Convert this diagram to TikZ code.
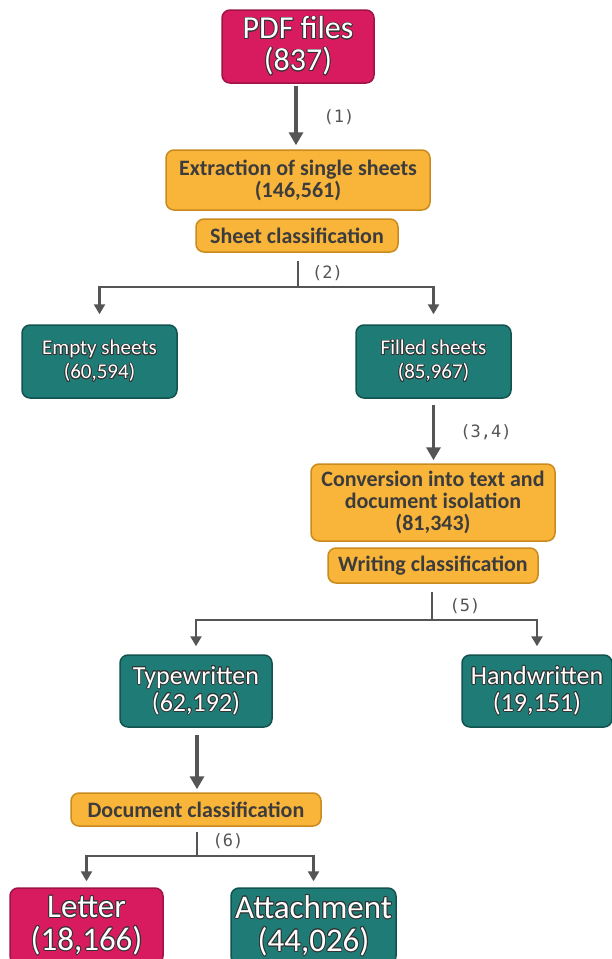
\documentclass[tikz,border=0pt]{standalone}
\usepackage{fontspec}
\setmainfont{Carlito}
\newfontfamily\lblfont{DejaVu Sans Mono}
\usepackage[copies]{contour}
\contourlength{0.8pt}
\usetikzlibrary{arrows.meta}
\definecolor{crim}{HTML}{D81B5E}
\definecolor{crimb}{HTML}{9E1447}
\definecolor{teal}{HTML}{1F7B76}
\definecolor{tealb}{HTML}{12534F}
\definecolor{orng}{HTML}{F9B43A}
\definecolor{orngb}{HTML}{C98A1E}
\definecolor{ink}{HTML}{3C3C3C}
\definecolor{conn}{HTML}{555555}
\newcommand{\wt}[1]{\contour{black!80}{#1}}
\tikzset{
  box/.style={rounded corners=8pt, line width=1.5pt, align=center, inner sep=0pt},
  redbox/.style={box, fill=crim, draw=crimb, text=white},
  tealbox/.style={box, fill=teal, draw=tealb, text=white},
  orbox/.style={box, fill=orng, draw=orngb, text=ink, font=\bfseries\fontsize{22}{22}\selectfont},
  bigarrow/.style={draw=conn, line width=3.5pt, -{Triangle[width=14pt,length=13pt]}},
  branch/.style={draw=conn, line width=2.5pt},
  brarrow/.style={draw=conn, line width=2.5pt, -{Triangle[width=11pt,length=10pt]}},
  lbl/.style={text=conn, font=\lblfont\fontsize{17}{19}\selectfont, inner sep=0pt}
}
\begin{document}
\begin{tikzpicture}[x=1pt,y=-1pt]
\useasboundingbox (0,0) rectangle (612,959);
\clip (0,0) rectangle (612,959);
% nodes
\node[redbox, font=\fontsize{32}{32}\selectfont, minimum width=152pt, minimum height=73pt] (pdf) at (298,46.5) {\wt{PDF files}\\\wt{(837)}};
\node[orbox, minimum width=264pt, minimum height=60pt] (extr) at (298,180) {Extraction of single sheets\\(146,561)};
\node[orbox, minimum width=202pt, minimum height=33pt] (sheetc) at (297,235.5) {Sheet classification};
\node[tealbox, font=\fontsize{21}{24}\selectfont, minimum width=155pt, minimum height=73pt] (empty) at (99.5,361.5) {\wt{Empty sheets}\\\wt{(60,594)}};
\node[tealbox, font=\fontsize{21}{24}\selectfont, minimum width=155pt, minimum height=73pt] (filled) at (433.5,361.5) {\wt{Filled sheets}\\\wt{(85,967)}};
\node[orbox, minimum width=244pt, minimum height=77pt] (conv) at (433,502.5) {Conversion into text and\\document isolation\\(81,343)};
\node[orbox, minimum width=210pt, minimum height=35pt] (writc) at (433,565.5) {Writing classification};
\node[tealbox, font=\fontsize{26}{27}\selectfont, minimum width=152pt, minimum height=72pt] (type) at (196,691) {\wt{Typewritten}\\\wt{(62,192)}};
\node[tealbox, font=\fontsize{26}{27}\selectfont, minimum width=150pt, minimum height=72pt] (hand) at (537,691) {\wt{Handwritten}\\\wt{(19,151)}};
\node[orbox, minimum width=250pt, minimum height=33pt] (docc) at (196,809.5) {Document classification};
\node[redbox, font=\fontsize{33}{33}\selectfont, minimum width=153pt, minimum height=76pt] (letter) at (86.5,926) {\wt{Letter}\\\wt{(18,166)}};
\node[tealbox, font=\fontsize{33}{33}\selectfont, minimum width=165pt, minimum height=76pt] (attach) at (313.5,926) {\wt{Attachment}\\\wt{(44,026)}};
% junctions
\coordinate (j2) at (298,287);
\coordinate (j5) at (432,620);
\coordinate (j6) at (197,856);
% connectors
\draw[bigarrow, shorten <=2pt, shorten >=4pt] (pdf.south -| 296,0) -- (extr.north -| 296,0);
\draw[branch, shorten <=8pt] (sheetc.south -| j2) -- (j2);
\draw[brarrow, shorten >=10pt] (j2) -| (empty.north);
\draw[brarrow, shorten >=10pt] (j2) -| (filled.north);
\draw[bigarrow, shorten <=6pt, shorten >=3pt] (filled.south) -- (conv.north -| filled.south);
\draw[branch, shorten <=8pt] (writc.south -| j5) -- (j5);
\draw[brarrow, shorten >=8pt] (j5) -| (type.north);
\draw[brarrow, shorten >=8pt] (j5) -| (hand.north);
\draw[bigarrow, shorten <=7pt, shorten >=3pt] (type.south -| j6) -- (docc.north -| j6);
\draw[branch, shorten <=5pt] (docc.south -| j6) -- (j6);
\draw[brarrow, shorten >=6pt] (j6) -| (letter.north);
\draw[brarrow, shorten >=6pt] (j6) -| (attach.north);
% labels
\node[lbl] (l1) at (339,117) {(1)};
\node[lbl] (l2) at (327.5,273) {(2)};
\node[lbl] (l34) at (486,432) {(3,4)};
\node[lbl] (l5) at (465,606) {(5)};
\node[lbl] (l6) at (228,841) {(6)};
\end{tikzpicture}
\end{document}
